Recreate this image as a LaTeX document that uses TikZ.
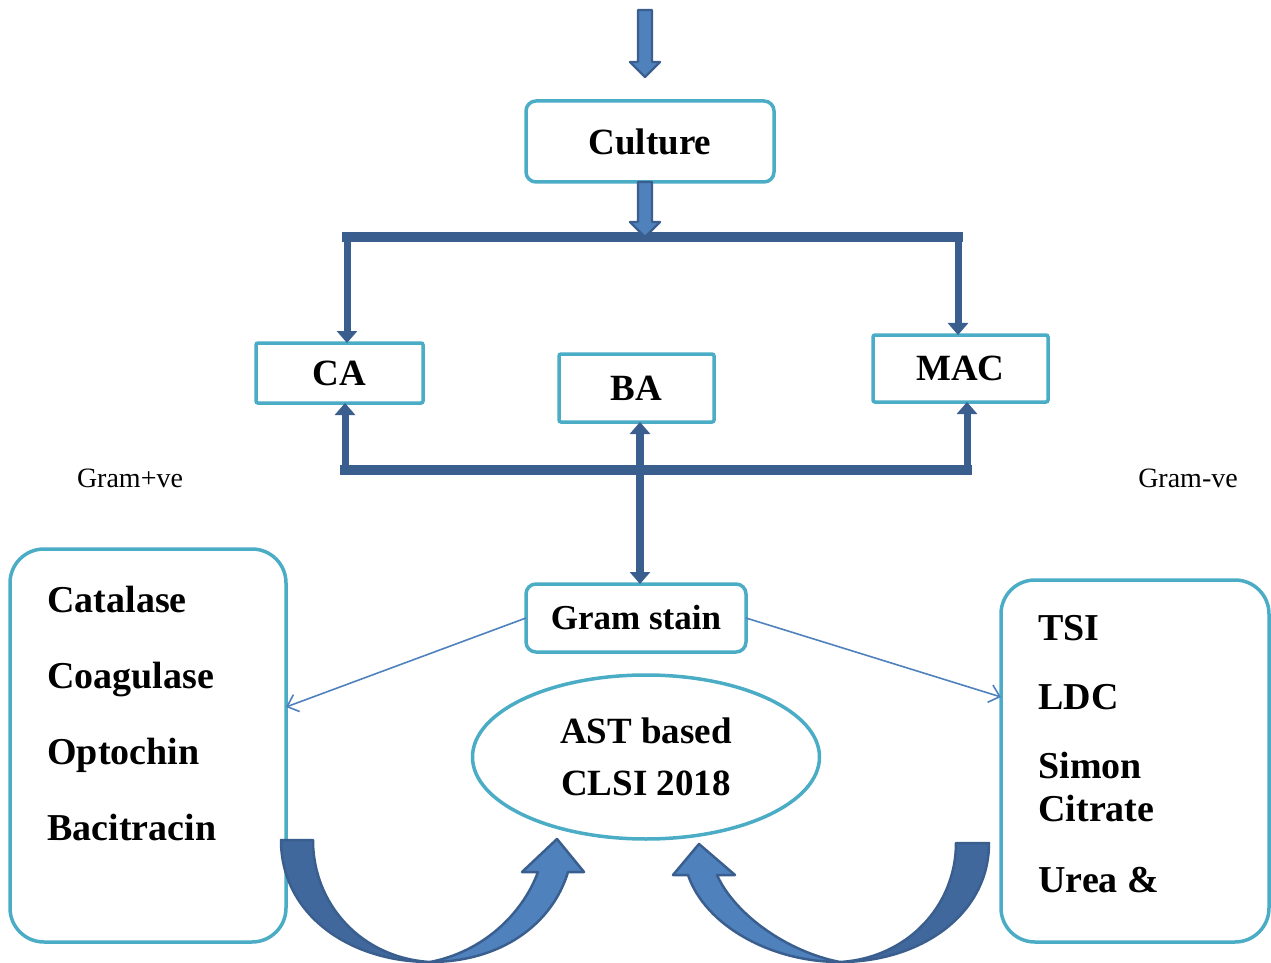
\documentclass[tikz,border=0pt]{standalone}
\usepackage{fontspec}
\setmainfont{Liberation Serif}
\usetikzlibrary{positioning,arrows.meta,calc,shapes.geometric}
\definecolor{cFrame}{HTML}{4BACC6}
\definecolor{cDark}{HTML}{3A5F8F}
\definecolor{cMid}{HTML}{4F81BD}
\definecolor{cShade}{HTML}{41689C}
\tikzset{
	frame/.style={draw=cFrame, line width=1.75pt, fill=white, inner sep=0pt, outer sep=0pt,
		align=center, font=\fontsize{18.5}{26}\selectfont\bfseries},
	roundbox/.style={frame, rounded corners=5pt},
	flatbox/.style={frame, rounded corners=1pt},
	bigbox/.style={frame, rounded corners=17pt},
	item/.style={anchor=base west, inner sep=0pt, font=\fontsize{19}{22}\selectfont\bfseries},
	side/.style={font=\fontsize{14}{16}\selectfont},
	bar/.style={draw=cDark, line width=5pt, line cap=rect},
	link/.style={draw=cDark, line width=3.5pt, line join=miter,
		{Triangle[width=10pt,length=6pt]}-{Triangle[width=10pt,length=6pt]}},
	pointer/.style={draw=cMid, line width=0.8pt, -{Straight Barb[length=5pt,width=9pt]}},
	fatarrow/.style={fill=cMid, draw=cDark, line width=1.2pt, line join=round},
	curlback/.style={fill=cShade, draw=cDark, line width=1.25pt, line join=round},
	curlfront/.style={fill=cMid, draw=cDark, line width=1.25pt, line join=round},
}
\newcommand\fatdown[2]{\filldraw[fatarrow] ($(#1)+(-7,0)$) -- ($(#2)+(-7,-15)$) -- ($(#2)+(-15,-15)$) -- (#2)
	-- ($(#2)+(15,-15)$) -- ($(#2)+(7,-15)$) -- ($(#1)+(7,0)$) -- cycle;}

\begin{document}
\begin{tikzpicture}[x=0.5pt, y=-0.5pt]
	\clip (0,0) rectangle (1271,963);
	% boxes
	\node[roundbox, minimum width=124pt, minimum height=40.5pt] (culture) at (650,141.5) {Culture};
	\node[flatbox, minimum width=83.5pt, minimum height=30pt] (ca) at (339.5,373) {CA};
	\node[flatbox, minimum width=77.5pt, minimum height=34pt] (ba) at (636.5,388) {BA};
	\node[flatbox, minimum width=87.5pt, minimum height=33.5pt] (mac) at (960.5,368.5) {MAC};
	\node[roundbox, minimum width=110pt, minimum height=34pt, font=\fontsize{17.5}{22}\selectfont\bfseries] (gram) at (636,618) {Gram stain};
	\node[bigbox, minimum width=138pt, minimum height=196.5pt] (gpos) at (148,745.5) {};
	\node[bigbox, minimum width=134pt, minimum height=181pt] (gneg) at (1135,761) {};
	\node[frame, ellipse, minimum width=173.5pt, minimum height=82pt] (ast) at (646,757) {AST based\\CLSI 2018};
	\node[side] (lpos) at (130,478) {Gram+ve};
	\node[side] (lneg) at (1188,478) {Gram-ve};
	% tests
	\node[item] (t1) at (47,612) {Catalase};
	\node[item] (t2) at (47,688) {Coagulase};
	\node[item] (t3) at (47,764) {Optochin};
	\node[item] (t4) at (47,840) {Bacitracin};
	\node[item] (u1) at (1038,640) {TSI};
	\node[item] (u2) at (1038,709) {LDC};
	\node[item] (u3) at (1038,778) {Simon};
	\node[item] (u4) at (1038,821) {Citrate};
	\node[item] (u5) at (1038,892) {Urea \&};
	% connectors
	\coordinate (top) at (645,10);
	\coordinate (ul) at (347,237);
	\coordinate (ur) at (958,237);
	\coordinate (ll) at (345,470);
	\coordinate (lr) at (967,470);
	\coordinate (pl) at (286,707);
	\coordinate (pr) at (1001,697);
	\fatdown{top}{645,77}
	\draw[bar] (ul) -- (ur);
	\draw[link] (ca.north -| ul) -- (ul) -- (ur) -- (mac.north -| ur);
	\fatdown{culture.south -| top}{ul -| top}
	\draw[bar] (ll) -- (lr);
	\draw[link] (ca.south -| ll) -- (ll) -- (lr) -- (mac.south -| lr);
	\draw[link, line width=4pt] (gram.north -| 640,0) -- (ba.south -| 640,0);
	\draw[pointer] (gram.west) -- (pl);
	\draw[pointer] (gram.east) -- (pr);
	% curved arrows
	\filldraw[curlback] (281,840) .. controls (281,915) and (350,962) .. (430,962)
		.. controls (362,958) and (313,905) .. (313,840) -- cycle;
	\filldraw[curlfront] (430,962) .. controls (500,962) and (552,925) .. (568,872) -- (584,872) -- (557,839)
		-- (522,872) -- (538,872) .. controls (522,915) and (482,952) .. (430,962) -- cycle;
	\filldraw[curlback] (989,843) .. controls (989,915) and (920,962) .. (840,962)
		.. controls (908,958) and (956,905) .. (956,843) -- cycle;
	\filldraw[curlfront] (840,962) .. controls (770,962) and (705,925) .. (688,875) -- (673,875) -- (699,844)
		-- (735,875) -- (717,875) .. controls (735,915) and (788,952) .. (840,962) -- cycle;
\end{tikzpicture}
\end{document}
